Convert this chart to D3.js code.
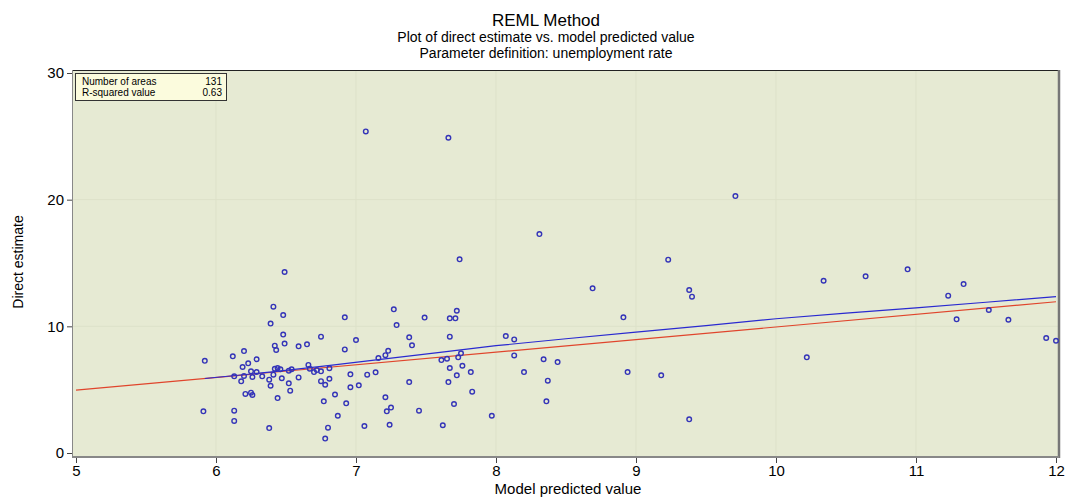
<!DOCTYPE html>
<html>
<head>
<meta charset="utf-8">
<script src="https://cdn.jsdelivr.net/npm/d3@7/dist/d3.min.js"></script>
<style>
  body { margin: 0; background: #fff; }
  text { font-family: "Liberation Sans", Arial, sans-serif; fill: #000; }
</style>
</head>
<body>
<div id="chart"></div>
<script>
var width = 1071;
var height = 499;

// direct estimate vs model predicted value, 131 areas
var predicted = [5.91, 5.92, 6.12, 6.13, 6.13, 6.13, 6.18, 6.19, 6.20, 6.20, 6.21, 6.23, 6.25, 6.25, 6.26, 6.26, 6.29, 6.29, 6.33, 6.38,
  6.38, 6.39, 6.39, 6.41, 6.41, 6.42, 6.42, 6.43, 6.44, 6.44, 6.46, 6.47, 6.48, 6.48, 6.49, 6.49, 6.52, 6.52, 6.53, 6.54,
  6.59, 6.59, 6.65, 6.66, 6.67, 6.70, 6.72, 6.75, 6.75, 6.75, 6.77, 6.78, 6.78, 6.80, 6.81, 6.81, 6.85, 6.87, 6.92, 6.92,
  6.93, 6.96, 6.96, 7.00, 7.02, 7.06, 7.07, 7.08, 7.14, 7.16, 7.21, 7.21, 7.22, 7.23, 7.24, 7.25, 7.27, 7.29, 7.38, 7.38,
  7.40, 7.45, 7.49, 7.61, 7.62, 7.65, 7.66, 7.66, 7.67, 7.67, 7.67, 7.70, 7.71, 7.72, 7.72, 7.73, 7.74, 7.75, 7.76, 7.82,
  7.83, 7.97, 8.07, 8.13, 8.13, 8.20, 8.31, 8.34, 8.36, 8.37, 8.44, 8.69, 8.91, 8.94, 9.18, 9.23, 9.38, 9.38, 9.40, 9.71,
  10.22, 10.34, 10.64, 10.94, 11.23, 11.29, 11.34, 11.52, 11.66, 11.93, 12.00];
var direct = [3.29, 7.28, 7.63, 6.05, 3.34, 2.53, 5.66, 6.79, 8.05, 6.08, 4.66, 7.08, 6.45, 4.76, 6.00, 4.58, 7.40, 6.39, 6.05, 5.79,
  1.97, 10.22, 5.31, 11.55, 6.18, 8.47, 6.65, 8.13, 4.34, 6.71, 6.61, 5.90, 9.35, 10.89, 8.64, 14.29, 6.50, 5.50, 4.92, 6.61,
  8.42, 5.97, 8.58, 6.95, 6.65, 6.39, 6.55, 6.45, 5.67, 9.18, 4.08, 5.39, 1.14, 2.00, 6.69, 5.86, 4.62, 2.94, 10.71, 8.18,
  3.92, 6.21, 5.19, 8.92, 5.34, 2.13, 25.39, 6.18, 6.37, 7.50, 7.72, 4.40, 3.29, 8.07, 2.23, 3.59, 11.34, 10.10, 9.13, 5.60,
  8.50, 3.34, 10.69, 7.34, 2.19, 7.44, 24.89, 5.60, 10.63, 9.18, 6.71, 3.87, 10.63, 6.13, 11.23, 7.55, 15.29, 7.87, 6.89, 6.39,
  4.84, 2.94, 9.23, 8.97, 7.70, 6.39, 17.28, 7.40, 4.08, 5.71, 7.18, 13.00, 10.71, 6.39, 6.13, 15.26, 2.66, 12.87, 12.34, 20.28,
  7.55, 13.60, 13.95, 14.50, 12.42, 10.55, 13.34, 11.29, 10.52, 9.08, 8.86];

// fitted (blue) and reference (red) lines
var fitX = [5.92, 6.4, 6.8, 7.1, 7.6, 8.0, 8.5, 9.0, 9.5, 10.0, 10.5, 11.0, 11.5, 12.0];
var fitY = [5.88, 6.4, 6.9, 7.3, 7.95, 8.47, 9.02, 9.55, 10.05, 10.6, 11.05, 11.45, 11.9, 12.34];
var refX = [5, 12];
var refY = [4.97, 11.94];

var statLabels = ["Number of areas", "R-squared value"];
var statValues = ["131", "0.63"];

var titles = ["REML Method", "Plot of direct estimate vs. model predicted value", "Parameter definition: unemployment rate"];

var svg = d3.select("#chart")
  .append("svg")
  .attr("width", width)
  .attr("height", height);

var frame = {left: 72, right: 1059, top: 70, bottom: 457};

var xScale = d3.scaleLinear().domain([5, 12]).range([76, 1056]);
var yScale = d3.scaleLinear().domain([0, 30]).range([453, 73]);

// plot background
svg.append("rect")
  .attr("x", frame.left)
  .attr("y", frame.top)
  .attr("width", frame.right - frame.left)
  .attr("height", frame.bottom - frame.top)
  .attr("fill", "#e6ead3");

// grid
svg.append("g")
  .selectAll("line.vg")
  .data(d3.range(6, 12))
  .enter()
  .append("line")
  .attr("x1", function(d) { return xScale(d); })
  .attr("x2", function(d) { return xScale(d); })
  .attr("y1", frame.top)
  .attr("y2", frame.bottom)
  .attr("stroke", "#dde1c9")
  .attr("stroke-width", 1);

svg.append("g")
  .selectAll("line.hg")
  .data([10, 20])
  .enter()
  .append("line")
  .attr("x1", frame.left)
  .attr("x2", frame.right)
  .attr("y1", function(d) { return yScale(d); })
  .attr("y2", function(d) { return yScale(d); })
  .attr("stroke", "#dde1c9")
  .attr("stroke-width", 1);

// frame
svg.append("line").attr("x1", frame.left).attr("x2", frame.right).attr("y1", frame.top + 0.5).attr("y2", frame.top + 0.5)
  .attr("stroke", "#222").attr("stroke-width", 1);
svg.append("line").attr("x1", frame.left + 0.5).attr("x2", frame.left + 0.5).attr("y1", frame.top).attr("y2", frame.bottom)
  .attr("stroke", "#888").attr("stroke-width", 1);
svg.append("line").attr("x1", frame.right).attr("x2", frame.right).attr("y1", frame.top).attr("y2", frame.bottom + 1)
  .attr("stroke", "#777").attr("stroke-width", 2.5);
svg.append("line").attr("x1", frame.left).attr("x2", frame.right).attr("y1", frame.bottom).attr("y2", frame.bottom)
  .attr("stroke", "#888").attr("stroke-width", 2);

// x axis
var xAxis = d3.axisBottom(xScale)
  .tickValues(d3.range(5, 13))
  .tickSize(5)
  .tickFormat(d3.format("d"));
var xMinor = d3.axisBottom(xScale)
  .tickValues(d3.range(50, 121).map(function(d) { return d / 10; }))
  .tickSize(3)
  .tickFormat("");

var gx = svg.append("g")
  .attr("transform", "translate(0," + (frame.bottom + 1) + ")");
gx.call(xMinor);
gx.call(xAxis);

var gy = svg.append("g")
  .attr("transform", "translate(" + frame.left + ",0)");
gy.call(d3.axisLeft(yScale).tickValues(d3.range(0, 31)).tickSize(3).tickFormat(""));
gy.call(d3.axisLeft(yScale).tickValues([0, 10, 20, 30]).tickSize(5).tickFormat(d3.format("d")));

svg.selectAll(".domain").remove();
svg.selectAll("g.tick line").attr("stroke", "#444");
svg.selectAll("g.tick text")
  .style("font-family", "'Liberation Sans', Arial, sans-serif")
  .style("font-size", "15px")
  .attr("fill", "#000");
gx.selectAll("g.tick text").attr("y", 7);
gy.selectAll("g.tick text").attr("x", -8);

// reference line (red) and fitted line (blue)
var line = d3.line()
  .x(function(d) { return xScale(d[0]); })
  .y(function(d) { return yScale(d[1]); });

svg.append("path")
  .datum(d3.zip(refX, refY))
  .attr("d", line)
  .attr("fill", "none")
  .attr("stroke", "#e0452c")
  .attr("stroke-width", 1.2);

svg.append("path")
  .datum(d3.zip(fitX, fitY))
  .attr("d", line)
  .attr("fill", "none")
  .attr("stroke", "#2a2ad0")
  .attr("stroke-width", 1.2);

// points
svg.append("g")
  .selectAll("circle")
  .data(d3.zip(predicted, direct))
  .enter()
  .append("circle")
  .attr("cx", function(d) { return xScale(d[0]); })
  .attr("cy", function(d) { return yScale(d[1]); })
  .attr("r", 2.3)
  .attr("fill", "none")
  .attr("stroke", "#3434b8")
  .attr("stroke-width", 1.4);

// stats box
var box = svg.append("g").attr("transform", "translate(75,73)");
box.append("rect")
  .attr("x", 0.5).attr("y", 0.5)
  .attr("width", 151).attr("height", 27)
  .attr("fill", "#fbfbdd")
  .attr("stroke", "#333")
  .attr("stroke-width", 1);
box.selectAll("text.lbl")
  .data(statLabels)
  .enter()
  .append("text")
  .attr("x", 7)
  .attr("y", function(d, i) { return 12 + i * 11; })
  .style("font-size", "10px")
  .text(function(d) { return d; });
box.selectAll("text.val")
  .data(statValues)
  .enter()
  .append("text")
  .attr("x", 147)
  .attr("y", function(d, i) { return 12 + i * 11; })
  .style("font-size", "10px")
  .style("text-anchor", "end")
  .text(function(d) { return d; });

// titles
svg.selectAll("text.title")
  .data(titles)
  .enter()
  .append("text")
  .attr("x", 546)
  .attr("y", function(d, i) { return [26, 42, 58][i]; })
  .style("text-anchor", "middle")
  .style("font-size", function(d, i) { return i == 0 ? "17px" : "14px"; })
  .text(function(d) { return d; });

svg.append("text")
  .attr("x", 568)
  .attr("y", 494)
  .style("text-anchor", "middle")
  .style("font-size", "15px")
  .text("Model predicted value");

svg.append("text")
  .attr("transform", "translate(23,262) rotate(-90)")
  .style("text-anchor", "middle")
  .style("font-size", "14px")
  .text("Direct estimate");
</script>
</body>
</html>
